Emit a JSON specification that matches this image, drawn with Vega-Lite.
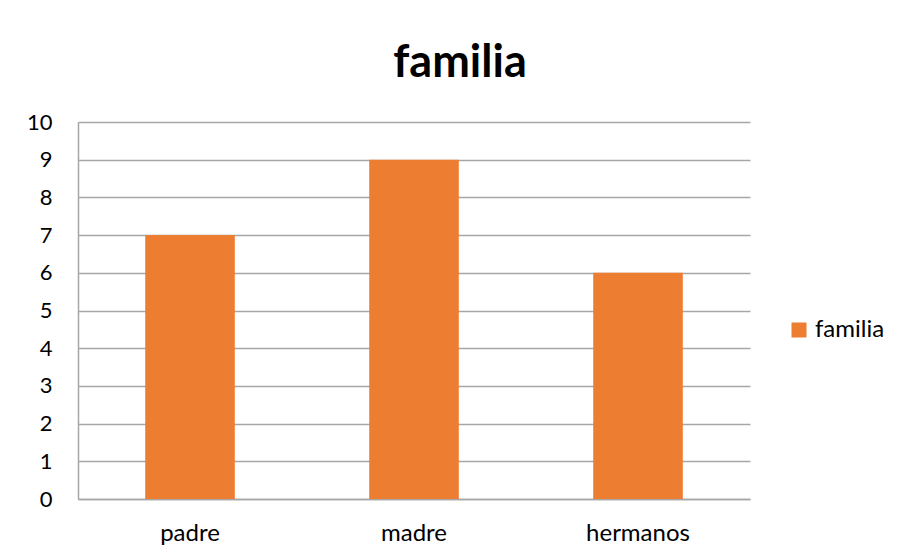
{
  "$schema": "https://vega.github.io/schema/vega-lite/v6.json",
  "autosize": "none",
  "width": 672,
  "height": 377,
  "padding": {"left": 78, "top": 122, "right": 149, "bottom": 61},
  "background": "white",
  "data": {"values": [
    {"categoria": "padre", "serie": "familia", "valor": 7},
    {"categoria": "madre", "serie": "familia", "valor": 9},
    {"categoria": "hermanos", "serie": "familia", "valor": 6}
  ]},
  "title": {
    "text": "familia",
    "font": "Lato",
    "fontSize": 45,
    "fontWeight": "bold",
    "color": "#000000",
    "anchor": "middle",
    "dx": 46,
    "offset": 25
  },
  "mark": {"type": "bar", "color": "#ED7D31"},
  "encoding": {
    "x": {
      "field": "categoria",
      "type": "nominal",
      "sort": ["padre", "madre", "hermanos"],
      "scale": {"paddingInner": 0.6, "paddingOuter": 0.3},
      "axis": {
        "title": null,
        "labelAngle": 0,
        "labelFont": "Lato",
        "labelFontSize": 24,
        "labelColor": "#000000",
        "labelPadding": 22,
        "ticks": false,
        "domainColor": "#a6a6a6",
        "domainWidth": 1.5,
        "grid": false
      }
    },
    "y": {
      "field": "valor",
      "type": "quantitative",
      "scale": {"domain": [0, 10]},
      "axis": {
        "title": null,
        "values": [0, 1, 2, 3, 4, 5, 6, 7, 8, 9, 10],
        "labelFont": "Lato",
        "labelFontSize": 22,
        "labelColor": "#000000",
        "labelPadding": 26,
        "ticks": false,
        "domainColor": "#a6a6a6",
        "domainWidth": 1.5,
        "gridColor": "#a6a6a6",
        "gridWidth": 1.5
      }
    },
    "fill": {
      "field": "serie",
      "type": "nominal",
      "scale": {"range": ["#ED7D31"]},
      "legend": {
        "title": null,
        "orient": "none",
        "legendX": 709,
        "legendY": 196,
        "symbolType": "square",
        "symbolSize": 225,
        "symbolStrokeWidth": 0,
        "labelFont": "Lato",
        "labelFontSize": 24,
        "labelColor": "#000000",
        "labelOffset": 4
      }
    }
  },
  "config": {"view": {"stroke": null}}
}
